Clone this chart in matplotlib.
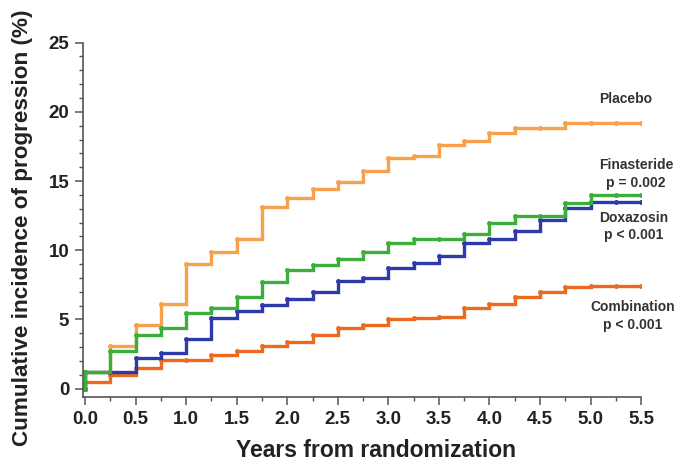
import matplotlib
matplotlib.use("Agg")
import matplotlib.pyplot as plt
from matplotlib.ticker import MultipleLocator

# step times (years); each value holds from its time until the next one
years = [0.0, 0.25, 0.5, 0.75, 1.0, 1.25, 1.5, 1.75, 2.0, 2.25, 2.5, 2.75,
         3.0, 3.25, 3.5, 3.75, 4.0, 4.25, 4.5, 4.75, 5.0, 5.25, 5.5]

placebo = [1.2, 3.1, 4.6, 6.1, 9.0, 9.9, 10.8, 13.1, 13.8, 14.4, 14.9, 15.7,
           16.7, 16.8, 17.6, 17.9, 18.5, 18.8, 18.8, 19.2, 19.2, 19.2, 19.2]
finasteride = [1.2, 2.7, 3.9, 4.4, 5.5, 5.8, 6.6, 7.7, 8.55, 8.95, 9.4, 9.9,
               10.5, 10.8, 10.8, 11.2, 12.0, 12.45, 12.45, 13.4, 14.0, 14.0, 14.0]
doxazosin = [1.2, 1.2, 2.2, 2.6, 3.6, 5.1, 5.6, 6.05, 6.5, 7.0, 7.75, 8.0,
             8.7, 9.1, 9.55, 10.5, 10.8, 11.4, 12.2, 13.05, 13.5, 13.5, 13.5]
combination = [0.5, 1.0, 1.5, 2.1, 2.1, 2.45, 2.7, 3.05, 3.4, 3.9, 4.4, 4.6,
               5.0, 5.1, 5.2, 5.8, 6.1, 6.6, 7.0, 7.35, 7.4, 7.4, 7.4]

# curve labels: text, x, y (data coords)
curve_labels = [
    ("Placebo", 5.35, 20.9),
    ("Finasteride\np = 0.002", 5.45, 15.5),
    ("Doxazosin\np < 0.001", 5.43, 11.7),
    ("Combination\np < 0.001", 5.42, 5.25),
]

plt.rcParams['font.family'] = ['Liberation Sans', 'DejaVu Sans']
plt.rcParams['font.weight'] = 'bold'

fig = plt.figure(figsize=(6.78, 4.63), dpi=100)
ax = fig.add_axes([0.1225, 0.1425, 0.823, 0.7655])

series = [
    (placebo, '#f7a14c'),
    (combination, '#ea6a1e'),
    (doxazosin, '#2f3aaa'),
    (finasteride, '#3cae3c'),
]
for vals, col in series:
    x = [0.0] + years
    y = [0.0] + vals
    ax.plot(x, y, drawstyle='steps-post', color=col, lw=2.4,
            marker='o', ms=2.5, mfc=col, mec=col, solid_joinstyle='miter')

ax.set_xlim(-0.02, 5.5)
ax.set_ylim(-0.6, 25)
ax.xaxis.set_major_locator(MultipleLocator(0.5))
ax.xaxis.set_minor_locator(MultipleLocator(0.25))
ax.yaxis.set_minor_locator(MultipleLocator(1))
ax.set_yticks([0, 5, 10, 15, 20, 25])
ax.xaxis.set_major_formatter(plt.FuncFormatter(lambda v, p: f"{v:.1f}"))

for s in ['top', 'right']:
    ax.spines[s].set_visible(False)
for s in ['left', 'bottom']:
    ax.spines[s].set_color('#555555')
    ax.spines[s].set_linewidth(1.2)

ax.tick_params(which='major', direction='out', length=6, width=1.1,
               color='#555555', labelsize=13.5, labelcolor='#222222', pad=4)
ax.tick_params(which='minor', direction='out', length=3, width=1.0,
               color='#555555')

# axis titles placed in figure coords to sit where the original has them
fig.text(0.5546, 0.012, 'Years from randomization', fontsize=16.5,
         fontweight='bold', color='#222222', ha='center', va='baseline')
fig.text(0.033, 0.5086, 'Cumulative incidence of progression (%)',
         fontsize=16.2, fontweight='bold', color='#222222',
         ha='center', va='center', rotation=90)

for txt, tx, ty in curve_labels:
    ax.text(tx, ty, txt, fontsize=10, ha='center', va='center',
            color='#333333', fontweight='bold', clip_on=False,
            linespacing=1.3)

fig.savefig('out.png', dpi=100)
